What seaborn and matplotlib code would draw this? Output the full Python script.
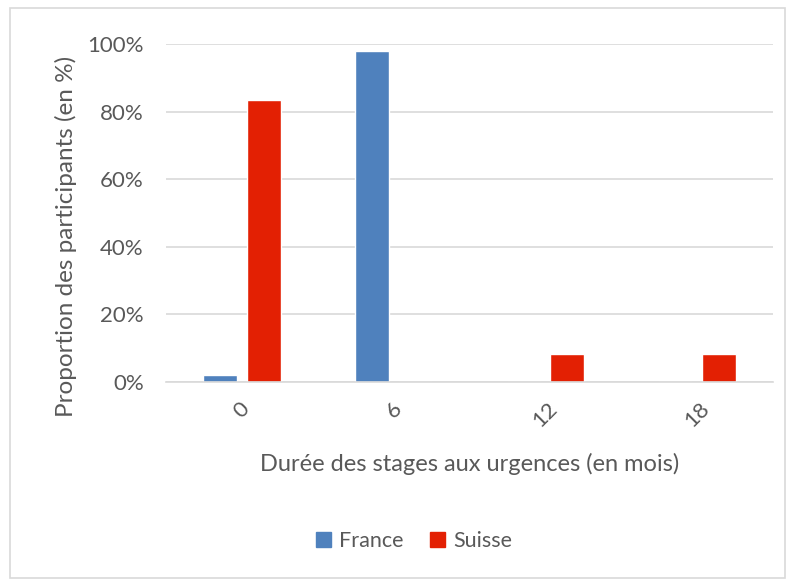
import pandas as pd
import matplotlib
matplotlib.use("Agg")
import matplotlib.pyplot as plt
import seaborn as sns
from matplotlib.patches import Rectangle, Patch
from matplotlib.ticker import PercentFormatter

# Données
durees = ["0", "6", "12", "18"]
france = [2.0, 98.0, 0.0, 0.0]
suisse = [83.3, 0.0, 8.3, 8.3]

df = pd.DataFrame({
    "duree": durees * 2,
    "pays": ["France"] * 4 + ["Suisse"] * 4,
    "valeur": france + suisse,
})

sns.set_theme(style="white")
plt.rcParams['font.family'] = ['Lato', 'DejaVu Sans']
gris = "#595959"
couleurs = {"France": "#4F81BD", "Suisse": "#E32003"}

fig = plt.figure(figsize=(7.95, 5.8), dpi=100)
ax = fig.add_axes([0.2088, 0.3414, 0.7635, 0.5827])

sns.barplot(data=df, x="duree", y="valeur", hue="pays", order=durees,
            palette=couleurs, saturation=1, width=0.575, gap=0.22, ax=ax, legend=False)

ax.set_ylim(0, 100)
ax.set_xlim(-0.5, 3.5)
ax.set_yticks([0, 20, 40, 60, 80, 100])
ax.yaxis.set_major_formatter(PercentFormatter(decimals=0))
ax.grid(axis="y", color="#D9D9D9", linewidth=1.2)
ax.set_axisbelow(True)
for s in ["top", "right", "left"]:
    ax.spines[s].set_visible(False)
ax.spines["bottom"].set_color("#D9D9D9")
ax.spines["bottom"].set_linewidth(1.2)
ax.tick_params(axis="both", length=0, labelsize=16, colors=gris)
ax.tick_params(axis="y", pad=16)
ax.tick_params(axis="x", pad=12)
for lab in ax.get_xticklabels():
    lab.set_rotation(45)
    lab.set_ha("center")

ax.set_ylabel("Proportion des participants (en %)", fontsize=17.5, color=gris)
ax.yaxis.set_label_coords(-0.147, 0.43)
ax.set_xlabel("Durée des stages aux urgences (en mois)", fontsize=17, color=gris, labelpad=16)

handles = [Patch(color=couleurs["France"], label="France"),
           Patch(color=couleurs["Suisse"], label="Suisse")]
leg = fig.legend(handles=handles, loc="center", bbox_to_anchor=(414 / 795, 1 - 541 / 580),
                 ncol=2, frameon=False, fontsize=15.5, handlelength=0.7, handleheight=0.7,
                 columnspacing=1.2, handletextpad=0.4)
for t in leg.get_texts():
    t.set_color(gris)

fig.patches.append(Rectangle((10 / 795, 0.003), 775 / 795, 1 - 8 / 580 - 0.003,
                             transform=fig.transFigure, fill=False,
                             edgecolor="#D9D9D9", linewidth=1.2))

fig.savefig("out.png", dpi=100)
